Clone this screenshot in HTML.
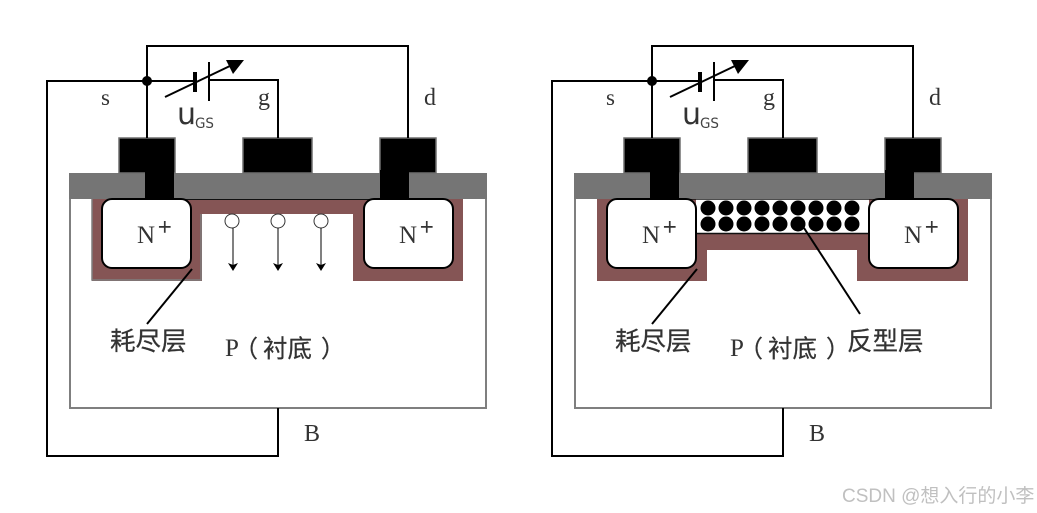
<!DOCTYPE html>
<html><head><meta charset="utf-8"><style>
html,body{margin:0;padding:0;background:#fff;width:1037px;height:513px;overflow:hidden}
svg{display:block}
.t{font-family:"Liberation Serif","Noto Sans CJK SC",serif;fill:#333}
.c{font-family:"WenQuanYi Zen Hei","Noto Sans CJK SC",sans-serif;fill:#333;stroke:#333;stroke-width:.25}
</style></head><body>
<svg width="1037" height="513" viewBox="0 0 1037 513" xmlns="http://www.w3.org/2000/svg">
<defs>
<marker id="a" markerWidth="9" markerHeight="10" refX="7" refY="5" orient="auto" markerUnits="userSpaceOnUse"><path d="M0 0L8 5L0 10L2 5Z" fill="#000"/></marker>
</defs>
<!-- LEFT -->
<g>
<rect x="70" y="180" width="416" height="228" fill="#fff" stroke="#7f7f7f" stroke-width="2"/>
<path d="M92 199H463V281H353V214H202V281H92Z" fill="#855555"/>
<path d="M92 199V280H201V214" fill="none" stroke="#7f7f7f" stroke-width="1.5"/>
<line x1="175" y1="199" x2="380" y2="199" stroke="#111" stroke-width="2"/>
<rect x="69" y="173" width="418" height="26" fill="#757575"/>
<rect x="119" y="138" width="56" height="35" fill="#000" stroke="#6f6f6f" stroke-width="1.5"/>
<rect x="243" y="138" width="69" height="35" fill="#000" stroke="#6f6f6f" stroke-width="1.5"/>
<rect x="380" y="138" width="56" height="35" fill="#000" stroke="#6f6f6f" stroke-width="1.5"/>
<rect x="145" y="170" width="29" height="30" fill="#000"/>
<rect x="380" y="170" width="29" height="30" fill="#000"/>
<rect x="102" y="199" width="89" height="69" rx="10" fill="#fff" stroke="#000" stroke-width="2"/>
<rect x="364" y="199" width="89" height="69" rx="10" fill="#fff" stroke="#000" stroke-width="2"/>
<g fill="none" stroke="#000" stroke-width="2">
<path d="M147 138V46H408V138"/>
<path d="M195 81H47V456H278V408"/>
<path d="M209 80H278V138"/>
</g>
<circle cx="147" cy="81" r="5" fill="#000"/>
<rect x="193" y="72" width="4" height="20" fill="#000"/>
<rect x="208" y="62" width="2" height="39" fill="#000"/>
<line x1="165" y1="97" x2="232" y2="65" stroke="#000" stroke-width="2"/>
<path d="M226 60L244 60L233 74Z" fill="#000"/>
<g fill="#fff" stroke="#333" stroke-width="1"><circle cx="232" cy="221" r="7"/><circle cx="278" cy="221" r="7"/><circle cx="321" cy="221" r="7"/></g>
<g stroke="#000" stroke-width="1"><line x1="233" y1="228" x2="233" y2="270" marker-end="url(#a)"/><line x1="278" y1="228" x2="278" y2="270" marker-end="url(#a)"/><line x1="321" y1="228" x2="321" y2="270" marker-end="url(#a)"/></g>
<line x1="192" y1="269" x2="147" y2="324" stroke="#000" stroke-width="2"/>
<text class="t" x="101" y="105" font-size="23">s</text>
<text class="t" x="258" y="105" font-size="24">g</text>
<text class="t" x="424" y="105" font-size="24">d</text>
<text class="t" x="304" y="441" font-size="24">B</text>
<text class="t" x="137" y="243" font-size="25">N</text>
<text class="t" x="158" y="235" font-size="24" stroke="#333" stroke-width=".5">+</text>
<text class="t" x="399" y="243" font-size="25">N</text>
<text class="t" x="420" y="235" font-size="24" stroke="#333" stroke-width=".5">+</text>
<text x="177" y="124" font-size="30" fill="#333" font-family="DejaVu Sans,sans-serif">u</text>
<text x="195" y="128" font-size="14" fill="#444" font-family="DejaVu Sans,sans-serif" textLength="19" lengthAdjust="spacingAndGlyphs">GS</text>
<text class="c" x="110" y="350" font-size="25.500">耗尽层</text>
<text class="t" x="225" y="356" font-size="25">P</text>
<text class="c" x="234" y="357" font-size="24">（</text>
<text class="c" x="263" y="357" font-size="24.500">衬底</text>
<text class="c" x="321" y="357" font-size="24">）</text>
</g>
<!-- RIGHT -->
<g transform="translate(505 0)">
<rect x="70" y="180" width="416" height="228" fill="#fff" stroke="#7f7f7f" stroke-width="2"/>
<path d="M92 199H463V281H352V250H202V281H92Z" fill="#855555"/>
<rect x="191" y="199" width="173" height="34" fill="#fff"/>
<line x1="191" y1="233.500" x2="364" y2="233.500" stroke="#111" stroke-width="1.500"/>
<line x1="175" y1="199" x2="380" y2="199" stroke="#111" stroke-width="1.500"/>
<rect x="69" y="173" width="418" height="26" fill="#757575"/>
<rect x="119" y="138" width="56" height="35" fill="#000" stroke="#6f6f6f" stroke-width="1.5"/>
<rect x="243" y="138" width="69" height="35" fill="#000" stroke="#6f6f6f" stroke-width="1.5"/>
<rect x="380" y="138" width="56" height="35" fill="#000" stroke="#6f6f6f" stroke-width="1.5"/>
<rect x="145" y="170" width="29" height="30" fill="#000"/>
<rect x="380" y="170" width="29" height="30" fill="#000"/>
<rect x="102" y="199" width="89" height="69" rx="10" fill="#fff" stroke="#000" stroke-width="2"/>
<rect x="364" y="199" width="89" height="69" rx="10" fill="#fff" stroke="#000" stroke-width="2"/>
<g fill="#000">
<circle cx="203" cy="208" r="7.500"/><circle cx="221" cy="208" r="7.500"/><circle cx="239" cy="208" r="7.500"/><circle cx="257" cy="208" r="7.500"/><circle cx="275" cy="208" r="7.500"/><circle cx="293" cy="208" r="7.500"/><circle cx="311" cy="208" r="7.500"/><circle cx="329" cy="208" r="7.500"/><circle cx="347" cy="208" r="7.500"/>
<circle cx="203" cy="224" r="7.500"/><circle cx="221" cy="224" r="7.500"/><circle cx="239" cy="224" r="7.500"/><circle cx="257" cy="224" r="7.500"/><circle cx="275" cy="224" r="7.500"/><circle cx="293" cy="224" r="7.500"/><circle cx="311" cy="224" r="7.500"/><circle cx="329" cy="224" r="7.500"/><circle cx="347" cy="224" r="7.500"/>
</g>
<g fill="none" stroke="#000" stroke-width="2">
<path d="M147 138V46H408V138"/>
<path d="M195 81H47V456H278V408"/>
<path d="M209 80H278V138"/>
</g>
<circle cx="147" cy="81" r="5" fill="#000"/>
<rect x="193" y="72" width="4" height="20" fill="#000"/>
<rect x="208" y="62" width="2" height="39" fill="#000"/>
<line x1="165" y1="97" x2="232" y2="65" stroke="#000" stroke-width="2"/>
<path d="M226 60L244 60L233 74Z" fill="#000"/>
<line x1="192" y1="269" x2="147" y2="324" stroke="#000" stroke-width="2"/>
<line x1="299" y1="228" x2="355" y2="314" stroke="#000" stroke-width="2"/>
<text class="t" x="101" y="105" font-size="23">s</text>
<text class="t" x="258" y="105" font-size="24">g</text>
<text class="t" x="424" y="105" font-size="24">d</text>
<text class="t" x="304" y="441" font-size="24">B</text>
<text class="t" x="137" y="243" font-size="25">N</text>
<text class="t" x="158" y="235" font-size="24" stroke="#333" stroke-width=".5">+</text>
<text class="t" x="399" y="243" font-size="25">N</text>
<text class="t" x="420" y="235" font-size="24" stroke="#333" stroke-width=".5">+</text>
<text x="177" y="124" font-size="30" fill="#333" font-family="DejaVu Sans,sans-serif">u</text>
<text x="195" y="128" font-size="14" fill="#444" font-family="DejaVu Sans,sans-serif" textLength="19" lengthAdjust="spacingAndGlyphs">GS</text>
<text class="c" x="110" y="350" font-size="25.500">耗尽层</text>
<text class="t" x="225" y="356" font-size="25">P</text>
<text class="c" x="234" y="357" font-size="24">（</text>
<text class="c" x="263" y="357" font-size="24.500">衬底</text>
<text class="c" x="321" y="357" font-size="24">）</text>
<text class="c" x="342" y="350" font-size="25.500">反型层</text>
</g>
<text x="842" y="502" font-size="19" fill="#c0c0c0" font-family="'Liberation Sans','WenQuanYi Zen Hei','Noto Sans CJK SC',sans-serif">CSDN @想入行的小李</text>
</svg>
</body></html>
